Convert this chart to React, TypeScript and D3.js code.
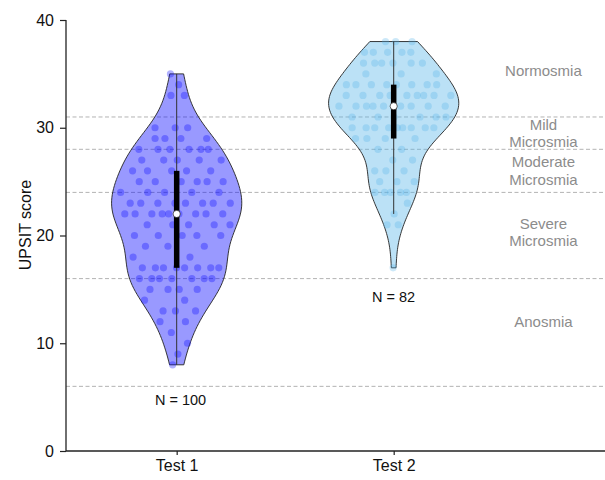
import React, { useEffect, useRef } from "react";
import * as d3 from "d3";

// UPSIT scores (integer scores, one entry per subject)
const test1Scores = [
  35, 34, 33, 33, 30, 30, 30, 29, 29, 29, 29, 28, 28, 28, 28, 28, 28,
  27, 27, 27, 27, 27, 26, 26, 26, 26, 26, 25, 25, 25, 25, 25, 25,
  24, 24, 24, 24, 24, 23, 23, 23, 23, 23, 23, 23, 23,
  22, 22, 22, 22, 22, 22, 22, 22, 22, 21, 21, 21, 21, 21,
  20, 20, 20, 20, 20, 19, 19, 19, 18, 18,
  17, 17, 17, 17, 17, 17, 17, 17, 16, 16, 16, 16, 16, 16, 16,
  15, 15, 15, 15, 14, 14, 13, 13, 13, 12, 12, 11, 10, 9, 8,
];

const test2Scores = [
  38, 38, 38, 37, 37, 37, 37, 37, 36, 36, 36, 36, 36, 36, 35, 35, 35,
  34, 34, 34, 34, 34, 34, 34, 34, 33, 33, 33, 33, 33, 33, 33, 33, 33,
  32, 32, 32, 32, 32, 32, 32, 32, 32, 31, 31, 31, 31, 31, 31,
  30, 30, 30, 30, 30, 30, 30, 30, 30, 29, 29, 29, 29, 28, 28,
  27, 27, 26, 26, 26, 25, 25, 25, 24, 24, 24, 24, 24, 23, 22, 21, 21, 17,
];

const groupNames = ["Test 1", "Test 2"];
const groupColors = ["#0000ff", "#56b4e9"];
const nLabelScores = [4.7, 14.3];

// category cut-offs (dashed lines) and the band labels on the right
const cutoffs = [6, 16, 24, 28, 31];
const bandNames = [["Normosmia"], ["Mild", "Microsmia"], ["Moderate", "Microsmia"], ["Severe", "Microsmia"], ["Anosmia"]];
const bandLabelScores = [35.3, 29.5, 26, 20.3, 12];

const yTicks = [0, 10, 20, 30, 40];

const W = 605;
const H = 480;

// gaussian kde, scott's rule like scipy
const kde = (values) => {
  const n = values.length;
  const sd = d3.deviation(values);
  const bw = sd * Math.pow(n, -1 / 5);
  return (t) =>
    d3.sum(values, (v) => Math.exp(-0.5 * ((t - v) / bw) ** 2)) / (n * bw * Math.sqrt(2 * Math.PI));
};

const App = () => {
  const svgRef = useRef(null);

  useEffect(() => {
    const svg = d3.select(svgRef.current);
    svg.selectAll("*").remove();

    const x = d3.scaleLinear().domain([0.49, 3.0]).range([66, 610.7]);
    const y = d3.scaleLinear().domain([0, 40]).range([451, 20]);
    const halfW = 0.3; // violin half width in x units
    const font = "'Liberation Sans', Arial, Helvetica, sans-serif";

    // dashed cut-off lines
    svg
      .append("g")
      .selectAll("line")
      .data(cutoffs)
      .enter()
      .append("line")
      .attr("x1", x(0.49))
      .attr("x2", W)
      .attr("y1", (d) => y(d))
      .attr("y2", (d) => y(d))
      .attr("stroke", "#b3b3b3")
      .attr("stroke-width", 1)
      .attr("stroke-dasharray", "4,2.5");

    // band labels
    const labels = svg
      .append("g")
      .selectAll("text")
      .data(bandNames)
      .enter()
      .append("text")
      .attr("text-anchor", "middle")
      .style("font-family", font)
      .style("font-size", "15px")
      .style("fill", "#8c8c8c");
    labels.each(function (lines, i) {
      const t = d3.select(this);
      const yc = y(bandLabelScores[i]);
      const step = 17.5;
      lines.forEach((ln, j) => {
        t.append("tspan")
          .attr("x", x(2.69))
          .attr("y", yc + (j - (lines.length - 1) / 2) * step)
          .attr("dy", "0.35em")
          .text(ln);
      });
    });

    [test1Scores, test2Scores].forEach((scores, gi) => {
      const pos = gi + 1;
      const color = groupColors[gi];
      const dens = kde(scores);
      const lo = d3.min(scores);
      const hi = d3.max(scores);
      const grid = d3.range(100).map((k) => lo + ((hi - lo) * k) / 99);
      const dmax = d3.max(grid, dens);
      const wScale = d3.scaleLinear().domain([0, dmax]).range([0, halfW]);

      // violin body
      const area = d3
        .area()
        .y((t) => y(t))
        .x0((t) => x(pos - wScale(dens(t))))
        .x1((t) => x(pos + wScale(dens(t))))
        .curve(d3.curveLinear);
      svg
        .append("path")
        .datum(grid)
        .attr("d", area)
        .attr("fill", color)
        .attr("fill-opacity", 0.4)
        .attr("stroke", "#222")
        .attr("stroke-width", 0.9);

      // jittered points, spread inside the violin (golden-ratio sequence)
      svg
        .append("g")
        .selectAll("circle")
        .data(scores)
        .enter()
        .append("circle")
        .attr("cx", (d, i) => {
          const u = ((i * 0.6180339887 + gi * 0.31) % 1) * 2 - 1;
          return x(pos + u * wScale(dens(d)) * 0.9);
        })
        .attr("cy", (d) => y(d))
        .attr("r", 3.6)
        .attr("fill", color)
        .attr("fill-opacity", 0.3);

      // box stats
      const sorted = scores.slice().sort(d3.ascending);
      const q1 = d3.quantile(sorted, 0.25);
      const med = d3.quantile(sorted, 0.5);
      const q3 = d3.quantile(sorted, 0.75);
      const iqr = q3 - q1;
      const wLo = d3.min(sorted.filter((v) => v >= q1 - 1.5 * iqr));
      const wHi = d3.max(sorted.filter((v) => v <= q3 + 1.5 * iqr));

      svg
        .append("line")
        .attr("x1", x(pos))
        .attr("x2", x(pos))
        .attr("y1", y(wLo))
        .attr("y2", y(wHi))
        .attr("stroke", "#333")
        .attr("stroke-width", 1);
      svg
        .append("rect")
        .attr("x", x(pos) - 2.75)
        .attr("width", 5.5)
        .attr("y", y(q3))
        .attr("height", y(q1) - y(q3))
        .attr("fill", "#000");
      svg
        .append("circle")
        .attr("cx", x(pos))
        .attr("cy", y(med))
        .attr("r", 3.6)
        .attr("fill", "#fff")
        .attr("stroke", "#000")
        .attr("stroke-width", 0.6);

      // N label under the violin
      svg
        .append("text")
        .attr("x", x(pos - 0.1))
        .attr("y", y(nLabelScores[gi]))
        .attr("dy", "0.35em")
        .style("font-family", font)
        .style("font-size", "14.5px")
        .style("fill", "#111")
        .text(`N = ${scores.length}`);
    });

    // axes
    const yAxis = svg
      .append("g")
      .attr("transform", `translate(${x(0.49)},0)`)
      .call(d3.axisLeft(y).tickValues(yTicks).tickSize(6).tickPadding(6));
    const xAxis = svg
      .append("g")
      .attr("transform", `translate(0,${y(0)})`)
      .call(
        d3
          .axisBottom(x)
          .tickValues([1, 2])
          .tickFormat((d, i) => groupNames[i])
          .tickSize(4)
          .tickPadding(5)
      );
    [yAxis, xAxis].forEach((ax) => {
      ax.select(".domain").attr("stroke", "#222").attr("stroke-width", 1.3);
      ax.selectAll(".tick line").attr("stroke", "#222").attr("stroke-width", 1.2);
      ax.selectAll("text").style("font-family", font).style("font-size", "16px").attr("fill", "#111");
    });
    // strip the outer tick ends of the domain path
    yAxis.select(".domain").attr("d", `M0,${y(40)}V${y(0)}`);
    xAxis.select(".domain").attr("d", `M${x(0.49)},0H${W}`);

    svg
      .append("text")
      .attr("transform", `translate(25,225) rotate(-90)`)
      .attr("text-anchor", "middle")
      .attr("dy", "0.35em")
      .style("font-family", font)
      .style("font-size", "16px")
      .style("fill", "#111")
      .text("UPSIT score");
  }, []);

  return (
    <svg
      ref={svgRef}
      width={W}
      height={H}
      style={{ position: "absolute", left: 0, top: 0, background: "#fff" }}
    ></svg>
  );
};

export default App;
